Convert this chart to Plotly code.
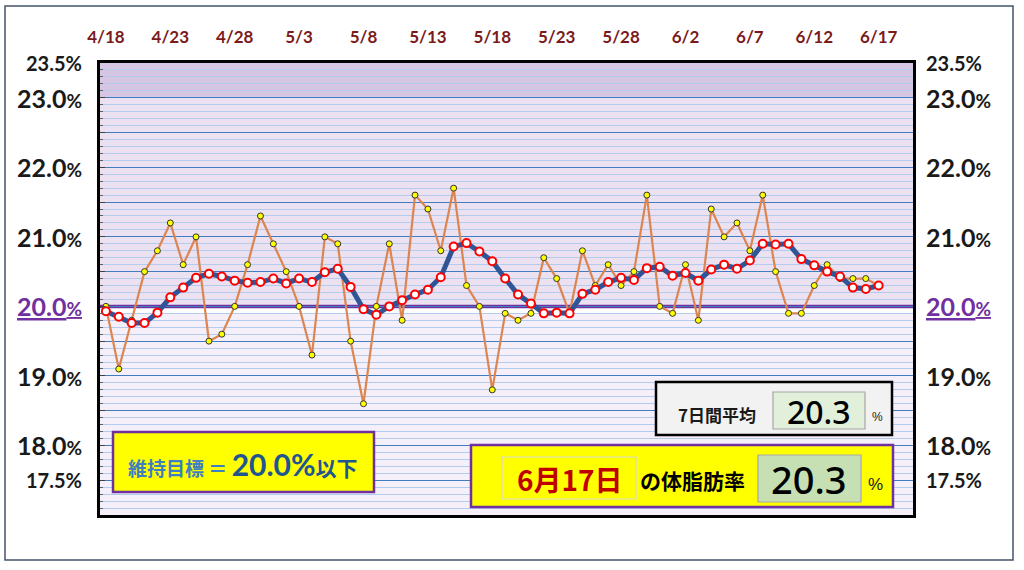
import pandas as pd
import plotly.graph_objects as go

# body fat %, 4/18 .. 6/17 (one value per day)
daily = [20.0, 19.1, 19.8, 20.5, 20.8, 21.2, 20.6, 21.0, 19.5, 19.6,
         20.0, 20.6, 21.3, 20.9, 20.5, 20.0, 19.3, 21.0, 20.9, 19.5,
         18.6, 20.0, 20.9, 19.8, 21.6, 21.4, 20.8, 21.7, 20.3, 20.0,
         18.8, 19.9, 19.8, 19.9, 20.7, 20.4, 19.9, 20.8, 20.3, 20.6,
         20.3, 20.5, 21.6, 20.0, 19.9, 20.6, 19.8, 21.4, 21.0, 21.2,
         20.8, 21.6, 20.5, 19.9, 19.9, 20.3, 20.6, 20.4, 20.4, 20.4,
         20.3]

# 7-day average
avg7 = [19.93, 19.85, 19.76, 19.76, 19.91, 20.13, 20.27, 20.41, 20.47, 20.43,
        20.37, 20.34, 20.35, 20.40, 20.33, 20.40, 20.35, 20.49, 20.54, 20.28,
        19.96, 19.88, 20.00, 20.09, 20.17, 20.24, 20.42, 20.86, 20.91, 20.79,
        20.65, 20.40, 20.17, 20.04, 19.90, 19.91, 19.90, 20.18, 20.24, 20.35,
        20.41, 20.38, 20.55, 20.57, 20.44, 20.48, 20.37, 20.53, 20.60, 20.54,
        20.66, 20.90, 20.89, 20.90, 20.68, 20.59, 20.50, 20.43, 20.27, 20.25,
        20.30]

dates = pd.date_range("2024-04-18", "2024-06-17", freq="D")
tick_labels = ["4/18", "4/23", "4/28", "5/3", "5/8", "5/13", "5/18",
               "5/23", "5/28", "6/2", "6/7", "6/12", "6/17"]

y_label_vals = [23.5, 23.0, 22.0, 21.0, 20.0, 19.0, 18.0, 17.5]
y_label_text = ["23.5", "23.0", "22.0", "21.0", "20.0", "19.0", "18.0", "17.5"]

target = 20.0
latest_day = "6月17日"
latest_val = "20.3"
avg_val = "20.3"

# plot area in pixels (1024x570 page)
PL, PR, PT, PB = 100, 913, 63, 515


def px(x):
    return (x - PL) / (PR - PL)


def py(y):
    return (PB - y) / (PB - PT)


def label(x, y, text, font, xanchor="center"):
    return dict(x=px(x), y=py(y), xref="paper", yref="paper", text=text,
                showarrow=False, xanchor=xanchor, yanchor="middle", font=font)


fig = go.Figure()

fig.add_trace(go.Scatter(
    x=dates, y=daily, mode="lines+markers",
    line=dict(color="#dd8550", width=2.2),
    marker=dict(size=6, color="#ffff00", line=dict(color="#333333", width=1)),
    hoverinfo="x+y", showlegend=False))

fig.add_trace(go.Scatter(
    x=dates, y=avg7, mode="lines+markers",
    line=dict(color="#2f5597", width=5),
    marker=dict(size=8, color="white", line=dict(color="#ff0000", width=2)),
    hoverinfo="x+y", showlegend=False))

shapes = []
# background bands
shapes.append(dict(type="rect", xref="paper", yref="y", x0=0, x1=1, y0=23.0, y1=23.5,
                   fillcolor="#d6c6e4", line_width=0, layer="below"))
shapes.append(dict(type="rect", xref="paper", yref="y", x0=0, x1=1, y0=20.0, y1=23.0,
                   fillcolor="#ebe1f1", line_width=0, layer="below"))
shapes.append(dict(type="rect", xref="paper", yref="y", x0=0, x1=1, y0=19.9, y1=20.0,
                   fillcolor="#ffffff", line_width=0, layer="below"))
# target line
shapes.append(dict(type="line", xref="paper", yref="y", x0=0, x1=1, y0=target, y1=target,
                   line=dict(color="#7030a0", width=3.5), layer="between"))
# outer frame
shapes.append(dict(type="rect", xref="paper", yref="paper",
                   x0=px(5), x1=px(1013), y0=py(560), y1=py(6),
                   line=dict(color="#44546a", width=1.5), layer="above"))
# target box (bottom left)
shapes.append(dict(type="rect", xref="paper", yref="paper",
                   x0=px(113), x1=px(374), y0=py(492), y1=py(432),
                   fillcolor="#ffff00", line=dict(color="#7030a0", width=2.5), layer="above"))
# 7-day average box
shapes.append(dict(type="rect", xref="paper", yref="paper",
                   x0=px(656), x1=px(892), y0=py(435), y1=py(382),
                   fillcolor="#f2f2f2", line=dict(color="#000000", width=2.5), layer="above"))
shapes.append(dict(type="rect", xref="paper", yref="paper",
                   x0=px(773), x1=px(865), y0=py(429), y1=py(392),
                   fillcolor="#e2efda", line=dict(color="#a6a6a6", width=1.2), layer="above"))
# latest value box
shapes.append(dict(type="rect", xref="paper", yref="paper",
                   x0=px(471), x1=px(893), y0=py(507), y1=py(445),
                   fillcolor="#ffff00", line=dict(color="#7030a0", width=2.5), layer="above"))
shapes.append(dict(type="rect", xref="paper", yref="paper",
                   x0=px(502), x1=px(636), y0=py(499), y1=py(457),
                   fillcolor="#ffff00", line=dict(color="#d9d9d9", width=1.2), layer="above"))
shapes.append(dict(type="rect", xref="paper", yref="paper",
                   x0=px(758), x1=px(861), y0=py(502), y1=py(455),
                   fillcolor="#c6e0b4", line=dict(color="#a6a6a6", width=1.2), layer="above"))

annotations = []
# y labels on both sides
for v, t in zip(y_label_vals, y_label_text):
    if v in (23.5, 17.5):
        txt = "<b>" + t + "%</b>"
        size = 20
    else:
        txt = "<b>" + t + "<span style='font-size:19px'>%</span></b>"
        size = 25
    color = "#1a1a1a"
    if v == target:
        txt = "<u>" + txt + "</u>"
        color = "#7030a0"
    for xpos, anchor in ((px(84), "right"), (px(924), "left")):
        annotations.append(dict(
            x=xpos, y=v, xref="paper", yref="y", text=txt, showarrow=False,
            xanchor=anchor, yanchor="middle",
            font=dict(family="Lato", size=size, color=color)))

cjk = "Noto Sans CJK JP"
digits = "Noto Sans, Roboto"

annotations.append(label(
    243, 464,
    "<b><span style='color:#3d7fc1;font-size:19px'>維持目標 ＝ </span>"
    "<span style='color:#1f5590;font-size:30px;font-family:Lato'>20.0%</span>"
    "<span style='color:#1f5590;font-size:21px'>以下</span></b>",
    dict(family=cjk, size=19, color="#1f5590")))

annotations.append(label(717, 414, "<b>7日間平均</b>",
                         dict(family=cjk, size=17, color="#1a1a1a")))
annotations.append(label(819, 411, avg_val,
                         dict(family=digits, size=32, color="#000000", weight=500)))
annotations.append(label(877, 417, "%",
                         dict(family="Liberation Sans", size=12, color="#1a1a1a")))

annotations.append(label(570, 479, "<b>" + latest_day + "</b>",
                         dict(family=cjk, size=28, color="#c00000")))
annotations.append(label(692, 480, "<b>の体脂肪率</b>",
                         dict(family=cjk, size=21, color="#000000")))
annotations.append(label(809, 479, latest_val,
                         dict(family=digits, size=38, color="#000000", weight=500)))
annotations.append(label(875, 484, "%",
                         dict(family="Liberation Sans", size=17, color="#1a1a1a")))

x0 = dates[0] - pd.Timedelta(hours=11)
x1 = dates[0] + pd.Timedelta(hours=int(62.7 * 24))

fig.update_layout(
    width=1024, height=570,
    margin=dict(l=PL, r=1024 - PR, t=PT, b=570 - PB, pad=0),
    paper_bgcolor="white",
    plot_bgcolor="#f4eff8",
    shapes=shapes,
    annotations=annotations,
    xaxis=dict(
        type="date", range=[x0, x1], side="top",
        tickvals=list(dates[::5]), ticktext=tick_labels,
        ticks="", showgrid=False, zeroline=False,
        ticklabelstandoff=10,
        tickfont=dict(family="Lato", size=17, color="#7b1a1a", weight="bold"),
        showline=True, mirror=True, linecolor="#000000", linewidth=2.5),
    yaxis=dict(
        range=[17.0, 23.5], dtick=0.5, tick0=17.0,
        showticklabels=False, zeroline=False,
        showgrid=True, gridcolor="#3f7cc0", gridwidth=1.4,
        ticks="inside", ticklen=5, tickcolor="#404040",
        minor=dict(dtick=0.1, showgrid=True, gridcolor="#b3cbec", gridwidth=1,
                   ticks="inside", ticklen=3, tickcolor="#606060"),
        showline=True, mirror=True, linecolor="#000000", linewidth=2.5),
)

fig.write_html("out.html", config={"displayModeBar": False},
               post_script="document.body.style.margin='0';")
